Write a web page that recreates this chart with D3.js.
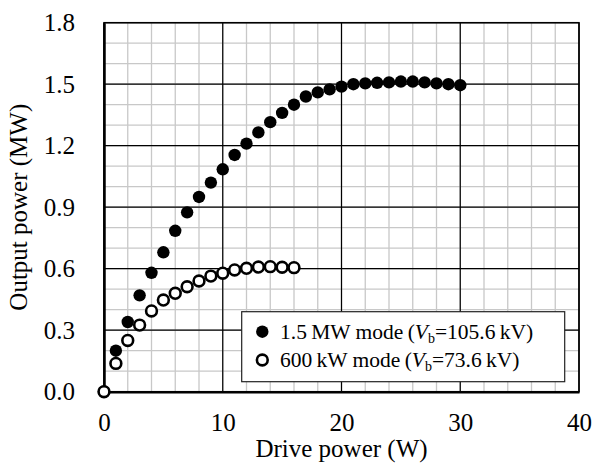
<!DOCTYPE html>
<html>
<head>
<meta charset="utf-8">
<script src="https://cdn.jsdelivr.net/npm/d3@7"></script>
<style>
  body { margin: 0; background: #fff; }
  text { font-family: "Liberation Serif", "Times New Roman", serif; fill: #000; }
</style>
</head>
<body>
<div id="chart"></div>
<script>
// drive power (W)
const drive1500 = [0, 1, 2, 3, 4, 5, 6, 7, 8, 9, 10, 11, 12, 13, 14, 15, 16, 17, 18, 19, 20,
                   21, 22, 23, 24, 25, 26, 27, 28, 29, 30];
// output power (MW), 1.5 MW mode
const out1500 = [0, 0.20, 0.34, 0.47, 0.58, 0.68, 0.785, 0.875, 0.95, 1.02, 1.085, 1.155, 1.21, 1.265, 1.315, 1.36, 1.40,
                 1.44, 1.46, 1.475, 1.488, 1.50, 1.504, 1.507, 1.509, 1.513, 1.513, 1.509, 1.504, 1.50, 1.495];

// 600 kW mode
const drive600 = [0, 1, 2, 3, 4, 5, 6, 7, 8, 9, 10, 11, 12, 13, 14, 15, 16];
const out600 = [0, 0.138, 0.25, 0.325, 0.394, 0.447, 0.48, 0.512, 0.54, 0.564, 0.578, 0.594, 0.602, 0.608, 0.61, 0.607, 0.605];

const xTicks = [0, 10, 20, 30, 40];
const yTicks = [0, 0.3, 0.6, 0.9, 1.2, 1.5, 1.8];
const xMinor = d3.range(0, 41, 2);
const yMinor = d3.range(0, 18.1, 1).map(d => d / 10);

const width = 594, height = 472;
const margin = {top: 22.7, right: 15, bottom: 80.3, left: 104};

const svg = d3.select("#chart").append("svg")
  .attr("width", width)
  .attr("height", height);

const x = d3.scaleLinear().domain([0, 40]).range([margin.left, width - margin.right]);
const y = d3.scaleLinear().domain([0, 1.8]).range([height - margin.bottom, margin.top]);

// minor grid
svg.append("g").selectAll("line").data(xMinor).join("line")
  .attr("x1", d => x(d)).attr("x2", d => x(d))
  .attr("y1", y(0)).attr("y2", y(1.8))
  .attr("stroke", "#c8c8c8").attr("stroke-width", 1.3);
svg.append("g").selectAll("line").data(yMinor).join("line")
  .attr("y1", d => y(d)).attr("y2", d => y(d))
  .attr("x1", x(0)).attr("x2", x(40))
  .attr("stroke", "#c8c8c8").attr("stroke-width", 1.3);

// major grid
svg.append("g").selectAll("line").data(xTicks).join("line")
  .attr("x1", d => x(d)).attr("x2", d => x(d))
  .attr("y1", y(0)).attr("y2", y(1.8))
  .attr("stroke", "#000").attr("stroke-width", 1.2);
svg.append("g").selectAll("line").data(yTicks).join("line")
  .attr("y1", d => y(d)).attr("y2", d => y(d))
  .attr("x1", x(0)).attr("x2", x(40))
  .attr("stroke", "#000").attr("stroke-width", 1.2);

// frame
svg.append("rect")
  .attr("x", x(0)).attr("y", y(1.8))
  .attr("width", x(40) - x(0)).attr("height", y(0) - y(1.8))
  .attr("fill", "none").attr("stroke", "#000").attr("stroke-width", 1.5);

// axes
const xAxis = svg.append("g")
  .attr("transform", "translate(0," + y(0) + ")")
  .call(d3.axisBottom(x).tickValues(xTicks).tickSize(0).tickPadding(22).tickFormat(d3.format("d")));
const yAxis = svg.append("g")
  .attr("transform", "translate(" + x(0) + ",0)")
  .call(d3.axisLeft(y).tickValues(yTicks).tickSize(0).tickPadding(29).tickFormat(d3.format(".1f")));

[xAxis, yAxis].forEach(a => {
  a.select(".domain").attr("stroke", "#000").attr("stroke-width", 2.5);
  a.selectAll("text").attr("font-size", 25).attr("font-family", "Liberation Serif");
});

// axis titles
svg.append("text")
  .attr("x", x(20)).attr("y", 457)
  .attr("text-anchor", "middle")
  .attr("font-size", 25)
  .text("Drive power (W)");
svg.append("text")
  .attr("transform", "translate(27," + y(0.9) + ") rotate(-90)")
  .attr("text-anchor", "middle")
  .attr("font-size", 25)
  .text("Output power (MW)");

// data
svg.append("g").selectAll("circle").data(drive1500.map((d, i) => [d, out1500[i]])).join("circle")
  .attr("cx", d => x(d[0])).attr("cy", d => y(d[1]))
  .attr("r", 6.2).attr("fill", "#000");
svg.append("g").selectAll("circle").data(drive600.map((d, i) => [d, out600[i]])).join("circle")
  .attr("cx", d => x(d[0])).attr("cy", d => y(d[1]))
  .attr("r", 5.4).attr("fill", "#fff").attr("stroke", "#000").attr("stroke-width", 2.6);

// legend
const lg = svg.append("g");
lg.append("rect")
  .attr("x", 241.7).attr("y", 311.7)
  .attr("width", 323).attr("height", 70)
  .attr("fill", "#fff").attr("stroke", "#222").attr("stroke-width", 1.2);

const items = [
  {fill: "#000", lead: "1.5\u2009MW mode\u2009(", val: "=105.6\u2009kV)"},
  {fill: "#fff", lead: "600\u2009kW mode\u2009(", val: "=73.6\u2009kV)"}
];
items.forEach((it, i) => {
  const cy = 331.7 + i * 28.3;
  lg.append("circle")
    .attr("cx", 262.3).attr("cy", cy)
    .attr("r", it.fill === "#000" ? 6.2 : 5.4)
    .attr("fill", it.fill)
    .attr("stroke", "#000").attr("stroke-width", it.fill === "#000" ? 0 : 2.6);
  const t = lg.append("text")
    .attr("x", 280).attr("y", cy + 7)
    .attr("font-size", 21.5);
  t.append("tspan").text(it.lead);
  t.append("tspan").attr("font-style", "italic").text("V");
  t.append("tspan").attr("font-size", 14).attr("dy", 4).text("b");
  t.append("tspan").attr("dy", -4).text(it.val);
});
</script>
</body>
</html>
